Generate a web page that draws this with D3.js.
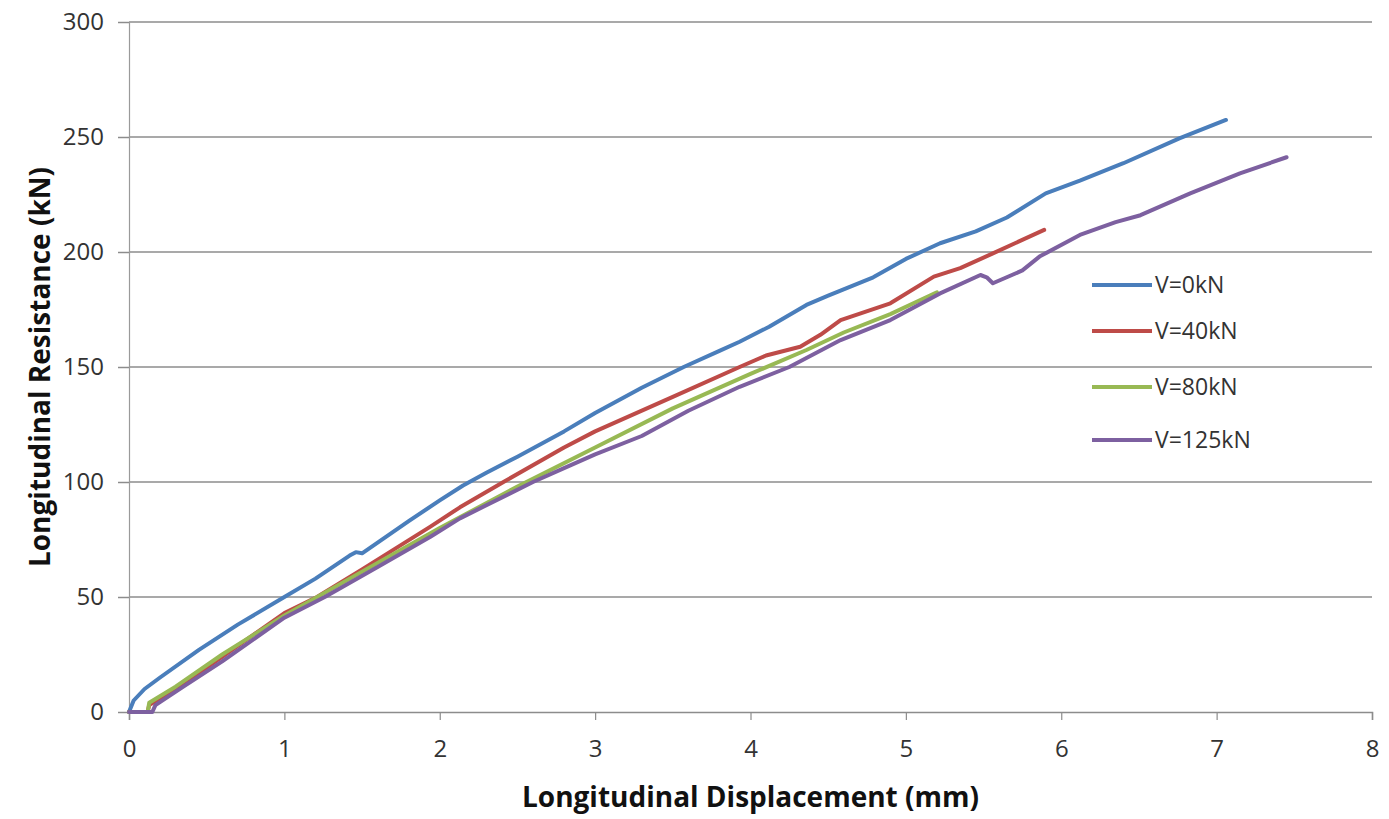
<!DOCTYPE html>
<html>
<head>
<meta charset="utf-8">
<script src="https://cdn.jsdelivr.net/npm/d3@7"></script>
<style>
  body { margin: 0; background: #fff; }
  svg text { font-family: "Open Sans", Lato, sans-serif; }
</style>
</head>
<body>
<svg></svg>
<script>
// series names and colours
const seriesNames = ['V=0kN', 'V=40kN', 'V=80kN', 'V=125kN']
const seriesColors = ['#4a7ebb', '#be4b48', '#98b954', '#7d60a0']

// V=0kN
const disp0 = [0, 0.03, 0.1, 0.2, 0.45, 0.7, 1.0, 1.2, 1.42, 1.46, 1.5, 1.8, 2.0, 2.15, 2.3, 2.5, 2.8, 3.0, 3.3, 3.57, 3.8, 3.93, 4.12, 4.36, 4.5, 4.79, 5.0, 5.22, 5.45, 5.65, 5.9, 6.12, 6.4, 6.76, 7.06]
const res0 = [0, 5, 10, 15, 27, 38, 50, 58, 68, 69.5, 69, 83, 92, 98.5, 104, 111, 122, 130, 141, 150, 157, 161, 167.5, 177, 181, 189, 197, 203.8, 209, 215, 225.5, 231, 238.6, 249.4, 257.4]

// V=40kN
const disp40 = [0, 0.12, 0.13, 0.3, 0.6, 1.0, 1.21, 1.5, 1.94, 2.13, 2.41, 2.8, 3.0, 3.5, 3.93, 4.1, 4.32, 4.45, 4.58, 4.9, 5.18, 5.35, 5.56, 5.89]
const res40 = [0, 0, 3, 10, 24, 43, 50, 62, 80.6, 89, 100, 115, 122, 137, 150, 155, 158.8, 164, 170.4, 177.7, 189.3, 193, 199.4, 209.6]

// V=80kN
const disp80 = [0, 0.12, 0.13, 0.3, 0.6, 1.0, 1.5, 2.0, 2.5, 3.0, 3.5, 4.0, 4.36, 4.6, 4.9, 5.2]
const res80 = [0, 0, 4, 11, 25, 42, 61, 80, 98, 115, 132, 147, 157.4, 165, 173, 182.5]

// V=125kN
const disp125 = [0, 0.15, 0.17, 0.35, 0.6, 1.0, 1.26, 1.6, 1.94, 2.13, 2.6, 2.8, 3.0, 3.3, 3.6, 3.93, 4.25, 4.58, 4.9, 5.22, 5.48, 5.52, 5.56, 5.75, 5.86, 6.12, 6.35, 6.51, 6.83, 7.15, 7.45]
const res125 = [0, 0, 3, 11, 22, 41, 50, 63, 76.2, 84.2, 100, 106, 112, 120, 131, 141.4, 150, 161.7, 170.4, 182, 190, 189, 186.4, 192, 198, 207.4, 213, 216, 225.5, 234.2, 241.2]

const xTicks = [0, 1, 2, 3, 4, 5, 6, 7, 8]
const yTicks = [0, 50, 100, 150, 200, 250, 300]

const allDisp = [disp0, disp40, disp80, disp125]
const allRes = [res0, res40, res80, res125]

const width = 1389
const height = 819
const margin = {left: 129, right: 17, top: 22, bottom: 107}

const svg = d3.select('svg')
.attr('width', width)
.attr('height', height)

const xScale = d3.scaleLinear()
.domain([0, 8])
.range([margin.left, width - margin.right])

const yScale = d3.scaleLinear()
.domain([0, 300])
.range([height - margin.bottom, margin.top])

// horizontal gridlines
svg.append('g')
.selectAll('line')
.data(yTicks.slice(1))
.enter()
.append('line')
.attr('x1', xScale(0))
.attr('x2', xScale(8))
.attr('y1', d => yScale(d))
.attr('y2', d => yScale(d))
.attr('stroke', '#8c8c8c')
.attr('stroke-width', 1.5)

// y axis
const y_axis = d3.axisLeft(yScale).tickValues(yTicks).tickSize(11).tickPadding(14)
const yg = svg.append('g').attr('transform', 'translate(' + xScale(0) + ',0)').call(y_axis)
yg.select('.domain').attr('stroke', '#9a9a9a').attr('stroke-width', 1.2)
yg.selectAll('.tick line').attr('stroke', '#8c8c8c').attr('stroke-width', 1.5)
yg.selectAll('.tick text').attr('font-size', 24).attr('fill', '#333')
.style('font-family', '"Open Sans", sans-serif')

// x axis
const x_axis = d3.axisBottom(xScale).tickValues(xTicks).tickSize(8).tickPadding(20)
const xg = svg.append('g').attr('transform', 'translate(0,' + yScale(0) + ')').call(x_axis)
xg.select('.domain').attr('stroke', '#8c8c8c').attr('stroke-width', 1.5)
xg.selectAll('.tick line').attr('stroke', '#8c8c8c').attr('stroke-width', 1.2)
xg.selectAll('.tick text').attr('font-size', 24).attr('fill', '#333')
.style('font-family', '"Open Sans", sans-serif')

// lines
const line = d3.line()
.x(d => xScale(d[0]))
.y(d => yScale(d[1]))

seriesNames.forEach(function(name, i) {
    const pts = allDisp[i].map((x, j) => [x, allRes[i][j]])
    svg.append('path')
    .datum(pts)
    .attr('d', line)
    .attr('fill', 'none')
    .attr('stroke', seriesColors[i])
    .attr('stroke-width', 4)
    .attr('stroke-linejoin', 'round')
    .attr('stroke-linecap', 'round')
})

// legend
const legendY = [285, 331, 387, 440]
const legend = svg.append('g')
seriesNames.forEach(function(name, i) {
    legend.append('line')
    .attr('x1', 1092).attr('x2', 1152)
    .attr('y1', legendY[i]).attr('y2', legendY[i])
    .attr('stroke', seriesColors[i])
    .attr('stroke-width', 4)
    legend.append('text')
    .attr('x', 1155)
    .attr('y', legendY[i])
    .attr('dy', '0.35em')
    .attr('font-size', 23)
    .attr('fill', '#333')
    .text(name)
})

// axis titles
svg.append('text')
.attr('x', (xScale(0) + xScale(8)) / 2)
.attr('y', 797)
.attr('dy', '0.35em')
.attr('text-anchor', 'middle')
.attr('font-size', 28)
.attr('font-weight', 'bold')
.attr('fill', '#111')
.text('Longitudinal Displacement (mm)')

svg.append('text')
.attr('transform', 'translate(40,' + yScale(150) + ') rotate(-90)')
.attr('dy', '0.35em')
.attr('text-anchor', 'middle')
.attr('font-size', 28)
.attr('font-weight', 'bold')
.attr('fill', '#111')
.text('Longitudinal Resistance (kN)')
</script>
</body>
</html>
